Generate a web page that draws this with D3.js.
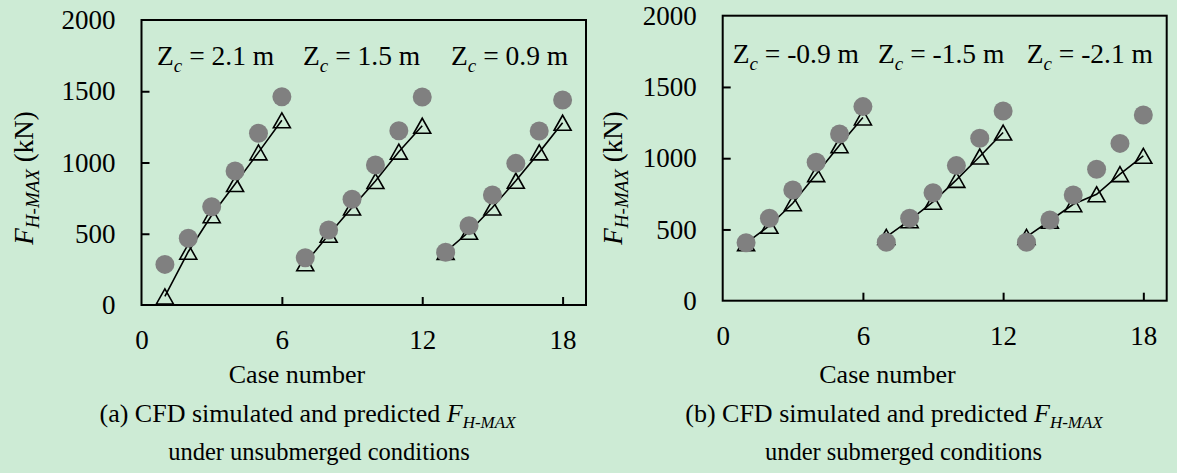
<!DOCTYPE html>
<html>
<head>
<meta charset="utf-8">
<script src="https://cdn.jsdelivr.net/npm/d3@7"></script>
<style>
  html, body { margin: 0; padding: 0; background: #cdebd5; }
  svg { display: block; }
  text { font-family: "Liberation Serif", "Times New Roman", serif; fill: #000; }
</style>
</head>
<body>
<svg id="chart" width="1177" height="473"></svg>
<script>
// ---- data ----
const cases = d3.range(1, 19);
const groups = [[1, 6], [7, 12], [13, 18]];
const xTicks = [0, 6, 12, 18];
const yTicks = [0, 500, 1000, 1500, 2000];

const cfdUnsubmerged  = [285, 468, 690, 940, 1205, 1462, 332, 526, 742, 982, 1223, 1460, 370, 557, 772, 994, 1221, 1439];
const predUnsubmerged = [60, 374, 630, 849, 1071, 1296, 293, 493, 684, 870, 1076, 1258, 373, 514, 684, 872, 1071, 1279];

const cfdSubmerged  = [407, 578, 777, 971, 1170, 1362, 410, 578, 758, 948, 1140, 1331, 410, 566, 742, 922, 1104, 1303];
const predSubmerged = [404, 526, 684, 888, 1091, 1286, 448, 565, 694, 848, 1012, 1180, 448, 561, 677, 747, 888, 1017];

const zcUnsubmerged = ["2.1", "1.5", "0.9"];
const zcSubmerged = ["-0.9", "-1.5", "-2.1"];

const captionA = ["(a) CFD simulated and predicted ", "under unsubmerged conditions"];
const captionB = ["(b) CFD simulated and predicted ", "under submerged conditions"];

// ---- drawing ----
const svg = d3.select("#chart");
const FS = 26, SUB = 17;

function panel(cfg) {
  const x = d3.scaleLinear().domain([0, 19]).range([cfg.left, cfg.right]);
  const y = d3.scaleLinear().domain([0, 2000]).range([cfg.bottom, cfg.top]);
  const g = svg.append("g");

  // frame
  g.append("rect")
    .attr("x", cfg.left).attr("y", cfg.top)
    .attr("width", cfg.right - cfg.left).attr("height", cfg.bottom - cfg.top)
    .attr("fill", "none").attr("stroke", "#000").attr("stroke-width", 2);

  // axes
  const ax = g.append("g").attr("transform", `translate(0,${cfg.bottom})`)
    .call(d3.axisBottom(x).tickValues(xTicks).tickSize(-8).tickPadding(25).tickFormat(d3.format("d")));
  const ay = g.append("g").attr("transform", `translate(${cfg.left},0)`)
    .call(d3.axisLeft(y).tickValues(yTicks).tickSize(-8).tickPadding(26).tickFormat(d3.format("d")));
  [ax, ay].forEach(a => {
    a.select(".domain").remove();
    a.selectAll(".tick line").attr("stroke", "#000").attr("stroke-width", 2);
    a.selectAll(".tick text").attr("font-size", 27).attr("font-family", "Liberation Serif");
  });
  ax.selectAll(".tick").filter(d => d === 0).select("line").remove();
  ay.selectAll(".tick").filter(d => d === 0 || d === 2000).select("line").remove();

  // prediction lines per group
  const line = d3.line().x(d => x(d)).y(d => y(cfg.pred[d - 1]));
  groups.forEach(([a, b]) => {
    g.append("path")
      .attr("d", line(d3.range(a, b + 1)))
      .attr("fill", "none").attr("stroke", "#000").attr("stroke-width", 1.6);
  });

  // triangles
  const tw = 17, th = 15;
  g.selectAll(".tri").data(cases).join("path")
    .attr("class", "tri")
    .attr("d", `M0,${-th / 2}L${tw / 2},${th / 2}L${-tw / 2},${th / 2}Z`)
    .attr("transform", d => `translate(${x(d)},${y(cfg.pred[d - 1])})`)
    .attr("fill", "none").attr("stroke", "#000").attr("stroke-width", 1.6)
    .attr("stroke-linejoin", "miter");

  // circles
  g.selectAll(".cfd").data(cases).join("circle")
    .attr("class", "cfd")
    .attr("cx", d => x(d)).attr("cy", d => y(cfg.cfd[d - 1]))
    .attr("r", 9.5).attr("fill", "#808080");

  // Zc annotations
  cfg.zc.forEach((v, i) => {
    const t = g.append("text").attr("x", cfg.zcX[i]).attr("y", cfg.zcY).attr("font-size", 27.5);
    t.append("tspan").text("Z");
    t.append("tspan").attr("font-style", "italic").attr("font-size", 19).attr("dy", 7).text("c");
    t.append("tspan").attr("dy", -7).text(` = ${v} m`);
  });

  // y label
  const yl = g.append("text")
    .attr("transform", `translate(${cfg.ylX},${cfg.ylY}) rotate(-90)`)
    .attr("text-anchor", "middle").attr("font-size", 27);
  yl.append("tspan").attr("font-style", "italic").text("F");
  yl.append("tspan").attr("font-style", "italic").attr("font-size", 19).attr("dy", 6).text("H-MAX");
  yl.append("tspan").attr("dy", -6).text(" (kN)");

  // x label
  g.append("text").attr("x", cfg.xlX).attr("y", 383).attr("text-anchor", "middle")
    .attr("font-size", FS).text("Case number");

  // caption
  const c1 = g.append("text").attr("x", cfg.cap1X).attr("y", 422).attr("text-anchor", "middle").attr("font-size", FS);
  c1.append("tspan").text(cfg.caption[0]);
  c1.append("tspan").attr("font-style", "italic").text("F");
  c1.append("tspan").attr("font-style", "italic").attr("font-size", SUB).attr("dy", 6).text("H-MAX");
  g.append("text").attr("x", cfg.cap2X).attr("y", 460).attr("text-anchor", "middle").attr("font-size", 24.5)
    .text(cfg.caption[1]);
}

panel({
  left: 141.5, right: 586, top: 20, bottom: 305,
  cfd: cfdUnsubmerged, pred: predUnsubmerged, zc: zcUnsubmerged,
  zcX: [157, 303, 451], zcY: 65,
  ylX: 33, ylY: 178, xlX: 297, cap1X: 307.5, cap2X: 319, caption: captionA
});
panel({
  left: 722.7, right: 1166.7, top: 15.7, bottom: 300.7,
  cfd: cfdSubmerged, pred: predSubmerged, zc: zcSubmerged,
  zcX: [732.7, 878, 1026.7], zcY: 63,
  ylX: 622, ylY: 178, xlX: 887.5, cap1X: 894, cap2X: 903.5, caption: captionB
});
</script>
</body>
</html>
